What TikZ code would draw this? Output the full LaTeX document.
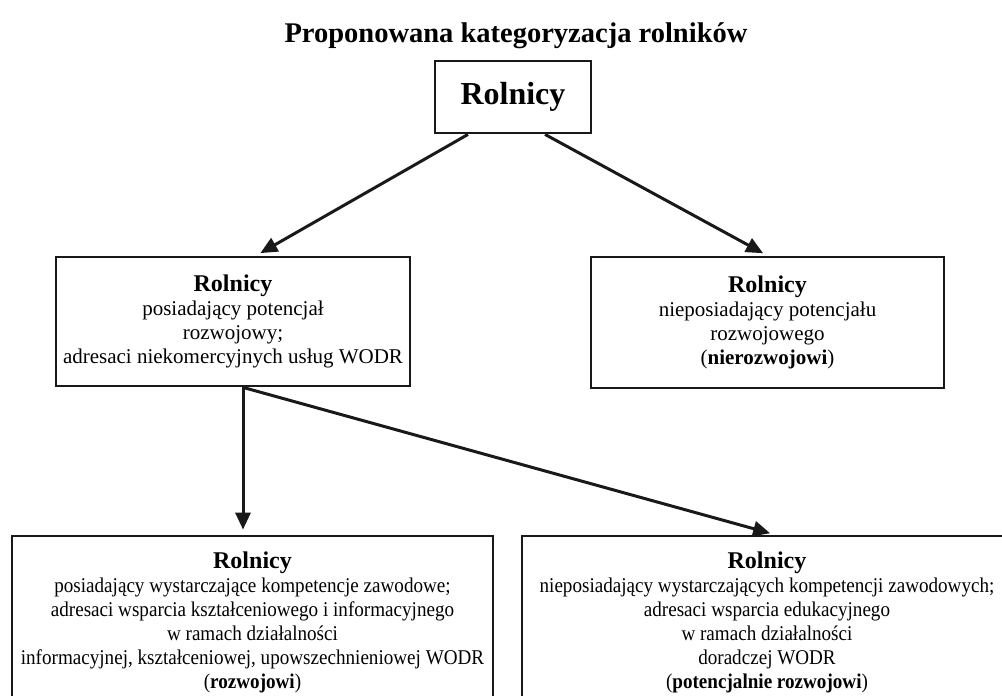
\documentclass[tikz,border=0pt]{standalone}
\usepackage{fontspec}
\setmainfont{Liberation Serif}
\newfontfamily\narrowfont[FakeStretch=0.91]{Liberation Serif}
\usetikzlibrary{arrows.meta}

\tikzstyle{box}=[draw=black!90, line width=2.8pt, align=center, inner sep=0pt,
  font=\fontsize{21}{24}\selectfont]
\tikzstyle{widebox}=[box, font=\narrowfont\fontsize{21}{24}\selectfont]
\tikzstyle{arrow} = [draw, black!90, line width=3pt, -{Triangle[length=17pt,width=15pt]}, shorten >=5pt]
\newcommand{\head}[1]{{\normalfont\fontsize{24}{27}\selectfont\bfseries #1}}

\begin{document}
\begin{tikzpicture}[x=1pt, y=-1pt]
	    \useasboundingbox (0,0) rectangle (1002,696);
	    \clip (0,0) rectangle (1002,696);
	    \node (title) at (516,36) {\fontsize{28.5}{32}\selectfont\bfseries Proponowana kategoryzacja rolników};
	    \node[box, minimum width=156pt, minimum height=72pt] (top) at (513,97)
	        {\fontsize{32}{36}\selectfont\bfseries Rolnicy};
	    \node[box, minimum width=354pt, minimum height=129pt] (devel) at (233,321.5)
	        {\head{Rolnicy}\\ posiadający potencjał\\ rozwojowy;\\ adresaci niekomercyjnych usług WODR};
	    \node[box, minimum width=353pt, minimum height=131pt] (nondevel) at (767.5,322.5)
	        {\head{Rolnicy}\\ nieposiadający potencjału\\ rozwojowego\\ (\textbf{nierozwojowi})};
	    \node[widebox, minimum width=481pt, minimum height=172pt] (competent) at (252.5,622)
	        {\head{Rolnicy}\\ posiadający wystarczające kompetencje zawodowe;\\ adresaci wsparcia kształceniowego i informacyjnego\\ w ramach działalności\\ informacyjnej, kształceniowej, upowszechnieniowej WODR\\ (\textbf{rozwojowi})};
	    \node[widebox, minimum width=490pt, minimum height=172pt] (potential) at (767,622)
	        {\head{Rolnicy}\\ nieposiadający wystarczających kompetencji zawodowych;\\ adresaci wsparcia edukacyjnego\\ w ramach działalności\\ doradczej WODR\\ (\textbf{potencjalnie rozwojowi})};
	    \foreach \source/\sx/\dest/\dx in {top/-45/devel/23, top/32/nondevel/0, devel/10/competent/-9.5, devel/10/potential/8}
			\path[arrow] ([xshift=\sx pt]\source.south) -- ([xshift=\dx pt]\dest.north);
	\end{tikzpicture}
\end{document}
